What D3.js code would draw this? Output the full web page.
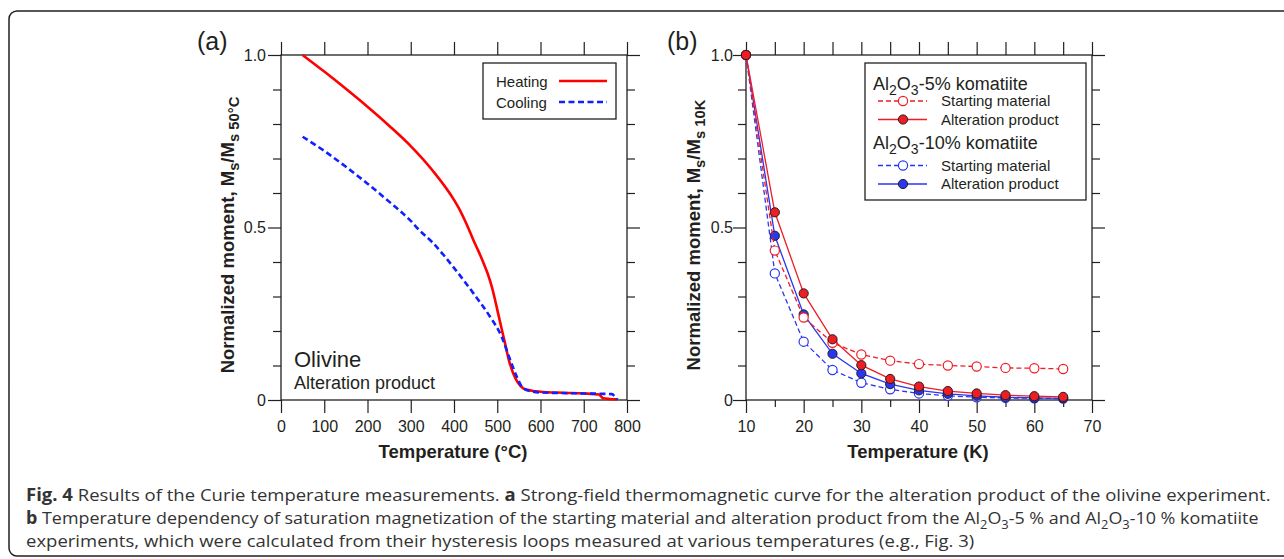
<!DOCTYPE html>
<html>
<head>
<meta charset="utf-8">
<script src="https://cdn.jsdelivr.net/npm/d3@7"></script>
<style>
  body { margin: 0; background: #fff; }
  svg { display: block; }
</style>
</head>
<body>
<svg width="1284" height="559"></svg>
<script>
// ---- panel (a): thermomagnetic curve, olivine alteration product
const heatingT = [50, 100, 150, 200, 250, 300, 350, 400, 415, 425, 437, 445, 456, 468, 478, 487, 495, 502, 510, 518, 527, 537, 548, 560, 580, 600, 650, 700, 735, 745, 760, 777];
const heatingM = [1.000, 0.952, 0.902, 0.850, 0.795, 0.736, 0.666, 0.580, 0.547, 0.521, 0.487, 0.463, 0.433, 0.398, 0.366, 0.330, 0.290, 0.251, 0.207, 0.164, 0.115, 0.077, 0.050, 0.034, 0.027, 0.024, 0.021, 0.019, 0.016, 0.005, 0.003, 0.002];
const coolingT = [50, 100, 150, 200, 250, 300, 320, 350, 400, 445, 483, 510, 530, 545, 560, 580, 600, 700, 765, 772, 778];
const coolingM = [0.763, 0.722, 0.676, 0.627, 0.575, 0.519, 0.492, 0.457, 0.383, 0.309, 0.242, 0.184, 0.116, 0.068, 0.034, 0.025, 0.022, 0.019, 0.017, 0.010, 0.001];
const xTicksA = [0, 100, 200, 300, 400, 500, 600, 700, 800];

// ---- panel (b): Ms(T) from hysteresis loops
const tempB = [10, 15, 20, 25, 30, 35, 40, 45, 50, 55, 60, 65];
const start5 = [1.0, 0.433, 0.239, 0.166, 0.132, 0.114, 0.104, 0.100, 0.097, 0.093, 0.092, 0.090];
const alter5 = [1.0, 0.544, 0.309, 0.176, 0.101, 0.061, 0.039, 0.026, 0.019, 0.014, 0.011, 0.009];
const start10 = [1.0, 0.367, 0.169, 0.087, 0.050, 0.031, 0.019, 0.012, 0.008, 0.006, 0.005, 0.004];
const alter10 = [1.0, 0.476, 0.248, 0.134, 0.077, 0.046, 0.028, 0.018, 0.012, 0.008, 0.006, 0.005];
const xTicksB = [10, 20, 30, 40, 50, 60, 70];
const xMinorB = [15, 25, 35, 45, 55, 65];

const yMajor = [0, 0.5, 1];
const yMinor = [0.1, 0.2, 0.3, 0.4, 0.6, 0.7, 0.8, 0.9];
const yLabel = d => d === 0 ? "0" : d3.format(".1f")(d);

const ink = "#231f20";
const sans = "'Liberation Sans', Arial, Helvetica, sans-serif";
const redA = "#ff0000", blueA = "#1020ff";
const redB = "#f01c24", blueB = "#2a36f0";

const svg = d3.select("svg");

// outer rounded frame
svg.append("rect")
  .attr("x", 9).attr("y", 11).attr("width", 1300).attr("height", 545)
  .attr("rx", 8).attr("fill", "none").attr("stroke", ink).attr("stroke-width", 1.5);

// text with subscript / bold pieces
function rich(sel, parts, size, subScale) {
  const k = subScale || 0.72;
  let shift = 0;
  parts.forEach(([str, st]) => {
    const sub = st && st.includes("s");
    const target = sub ? size * 0.28 : 0;
    const ts = sel.append("tspan").text(str).attr("dy", target - shift);
    shift = target;
    if (sub) ts.attr("font-size", size * k);
    if (st && st.includes("b")) ts.attr("font-weight", "bold");
  });
  return sel;
}

function styleAxis(g) {
  g.select(".domain").remove();
  g.selectAll("line").attr("stroke", ink).attr("stroke-width", 1.2);
  g.selectAll("text").attr("fill", ink).attr("font-family", sans).attr("font-size", 16);
}

function frame(x, y, xMajor, xMinor, labelGap) {
  const [x0, x1] = x.range();
  const [y0, y1] = y.range();
  const g = svg.append("g");
  // bottom
  g.append("g").attr("transform", `translate(0,${y0})`)
    .call(d3.axisBottom(x).tickValues(xMajor).tickSize(13).tickPadding(8).tickSizeOuter(0))
    .call(styleAxis);
  if (xMinor.length) {
    g.append("g").attr("transform", `translate(0,${y0})`)
      .call(d3.axisBottom(x).tickValues(xMinor).tickSize(7).tickFormat("").tickSizeOuter(0))
      .call(styleAxis);
  }
  // top
  g.append("g").attr("transform", `translate(0,${y1})`)
    .call(d3.axisTop(x).tickValues(xMajor.concat(xMinor)).tickSize(13).tickFormat("").tickSizeOuter(0))
    .call(styleAxis);
  // left
  g.append("g").attr("transform", `translate(${x0},0)`)
    .call(d3.axisLeft(y).tickValues(yMajor).tickSize(13).tickFormat("").tickSizeOuter(0))
    .call(styleAxis);
  g.append("g").attr("transform", `translate(${x0},0)`)
    .call(d3.axisLeft(y).tickValues(yMinor).tickSize(8).tickFormat("").tickSizeOuter(0))
    .call(styleAxis);
  g.append("g").attr("transform", `translate(${x0},0)`)
    .call(d3.axisLeft(y).tickValues(yMajor).tickSize(0).tickPadding(labelGap).tickFormat(yLabel))
    .call(styleAxis);
  // right
  g.append("g").attr("transform", `translate(${x1},0)`)
    .call(d3.axisRight(y).tickValues(yMajor).tickSize(13).tickFormat("").tickSizeOuter(0))
    .call(styleAxis);
  g.append("g").attr("transform", `translate(${x1},0)`)
    .call(d3.axisRight(y).tickValues(yMinor).tickSize(8).tickFormat("").tickSizeOuter(0))
    .call(styleAxis);
  // box
  g.append("rect").attr("x", x0).attr("y", y1).attr("width", x1 - x0).attr("height", y0 - y1)
    .attr("fill", "none").attr("stroke", ink).attr("stroke-width", 1.3);
  return g;
}

function txt(x, y, size, weight) {
  return svg.append("text").attr("x", x).attr("y", y)
    .attr("font-family", sans).attr("font-size", size)
    .attr("font-weight", weight || "normal").attr("fill", ink);
}

// ================= panel (a) =================
const xA = d3.scaleLinear().domain([0, 800]).range([281, 627]);
const yA = d3.scaleLinear().domain([0, 1]).range([400, 55]);
frame(xA, yA, xTicksA, [], 15);

const lineA = d3.line().x(d => xA(d[0])).y(d => yA(d[1])).curve(d3.curveMonotoneX);
svg.append("path").datum(d3.zip(heatingT, heatingM)).attr("d", lineA)
  .attr("fill", "none").attr("stroke", redA).attr("stroke-width", 2.6);
svg.append("path").datum(d3.zip(coolingT, coolingM)).attr("d", lineA)
  .attr("fill", "none").attr("stroke", blueA).attr("stroke-width", 2.6)
  .attr("stroke-dasharray", "6,3.5");

txt(197, 50, 25).text("(a)");
txt(xA(400) - 1, 458, 18.5, "bold").attr("text-anchor", "middle").text("Temperature (°C)");
rich(txt(0, 0, 18.5, "bold").attr("text-anchor", "middle")
  .attr("transform", "translate(234,235) rotate(-90)"),
  [["Normalized moment, M"], ["s", "s"], ["/M"], ["s 50°C", "s"]], 18.5, 0.8);

txt(294, 367, 22).text("Olivine");
txt(294, 388.5, 18).text("Alteration product");

// legend (a)
svg.append("rect").attr("x", 483).attr("y", 63).attr("width", 133).attr("height", 56)
  .attr("fill", "#fff").attr("stroke", ink).attr("stroke-width", 1.3);
txt(496, 86.5, 15).text("Heating");
txt(496, 107.5, 15).text("Cooling");
svg.append("line").attr("x1", 559).attr("x2", 607).attr("y1", 81).attr("y2", 81)
  .attr("stroke", redA).attr("stroke-width", 2.6);
svg.append("line").attr("x1", 559).attr("x2", 607).attr("y1", 102).attr("y2", 102)
  .attr("stroke", blueA).attr("stroke-width", 2.6).attr("stroke-dasharray", "6,3.5");

// ================= panel (b) =================
const xB = d3.scaleLinear().domain([10, 70]).range([746, 1092]);
const yB = d3.scaleLinear().domain([0, 1]).range([400, 55]);
frame(xB, yB, xTicksB, xMinorB, 13);

const lineB = d3.line().x(d => xB(d[0])).y(d => yB(d[1]));
const seriesB = [
  { vals: start10, color: blueB, dash: "5,3", filled: false },
  { vals: alter10, color: blueB, dash: null, filled: true },
  { vals: start5, color: redB, dash: "5,3", filled: false },
  { vals: alter5, color: redB, dash: null, filled: true }
];
seriesB.forEach(s => {
  const pts = d3.zip(tempB, s.vals);
  svg.append("path").datum(pts).attr("d", lineB).attr("fill", "none")
    .attr("stroke", s.color).attr("stroke-width", 1.3)
    .attr("stroke-dasharray", s.dash);
  svg.append("g").selectAll("circle").data(pts).join("circle")
    .attr("cx", d => xB(d[0])).attr("cy", d => yB(d[1])).attr("r", 4.6)
    .attr("fill", s.filled ? s.color : "#fff")
    .attr("stroke", s.filled ? ink : s.color)
    .attr("stroke-width", s.filled ? 1 : 1.2);
});

txt(667, 50, 25).text("(b)");
txt(xB(40) - 1, 458, 18.5, "bold").attr("text-anchor", "middle").text("Temperature (K)");
rich(txt(0, 0, 18.5, "bold").attr("text-anchor", "middle")
  .attr("transform", "translate(700,235) rotate(-90)"),
  [["Normalized moment, M"], ["s", "s"], ["/M"], ["s 10K", "s"]], 18.5, 0.8);

// legend (b)
svg.append("rect").attr("x", 865).attr("y", 63).attr("width", 221).attr("height", 137)
  .attr("fill", "#fff").attr("stroke", ink).attr("stroke-width", 1.3);
const legB = [
  { head: "-5% komatiite", y: 90, rows: [seriesB[2], seriesB[3]], ry: [101, 119.5] },
  { head: "-10% komatiite", y: 149, rows: [seriesB[0], seriesB[1]], ry: [165.5, 184] }
];
const rowNames = ["Starting material", "Alteration product"];
legB.forEach(b => {
  rich(txt(873, b.y, 18), [["Al"], ["2", "s"], ["O"], ["3", "s"], [b.head]], 18, 0.78);
  b.rows.forEach((s, i) => {
    const yy = b.ry[i];
    svg.append("line").attr("x1", 878).attr("x2", 927).attr("y1", yy).attr("y2", yy)
      .attr("stroke", s.color).attr("stroke-width", 1.3).attr("stroke-dasharray", s.dash);
    svg.append("circle").attr("cx", 903).attr("cy", yy).attr("r", 4.6)
      .attr("fill", s.filled ? s.color : "#fff")
      .attr("stroke", s.filled ? ink : s.color).attr("stroke-width", s.filled ? 1 : 1.2);
    txt(941, yy + 5.3, 15).text(rowNames[i]);
  });
});

// ================= caption =================
const capFont = "'Open Sans', 'Noto Sans', sans-serif";
const capX = 26, capSize = 17.2;
const capWidths = [1244, 1232, null];   // line 3 keeps line 1's squeeze
const capLines = [
  [["Fig. 4", "b"], [" Results of the Curie temperature measurements. "], ["a", "b"], [" Strong-field thermomagnetic curve for the alteration product of the olivine experiment."]],
  [["b", "b"], [" Temperature dependency of saturation magnetization of the starting material and alteration product from the Al"], ["2", "s"], ["O"], ["3", "s"], ["-5 % and Al"], ["2", "s"], ["O"], ["3", "s"], ["-10 % komatiite"]],
  [["experiments, which were calculated from their hysteresis loops measured at various temperatures (e.g., Fig. 3)"]]
];
const capY = [501, 524, 547];
let sx0 = 1;
capLines.forEach((parts, i) => {
  const t = svg.append("text").attr("x", 0).attr("y", 0)
    .attr("font-family", capFont).attr("font-size", capSize).attr("fill", "#333");
  rich(t, parts, capSize);
  // the original face is narrower: squeeze each line to the width it takes there
  const sx = capWidths[i] ? capWidths[i] / t.node().getComputedTextLength() : sx0;
  if (i === 0) sx0 = sx;
  t.attr("transform", `translate(${capX},${capY[i]}) scale(${sx},1)`);
});
</script>
</body>
</html>
